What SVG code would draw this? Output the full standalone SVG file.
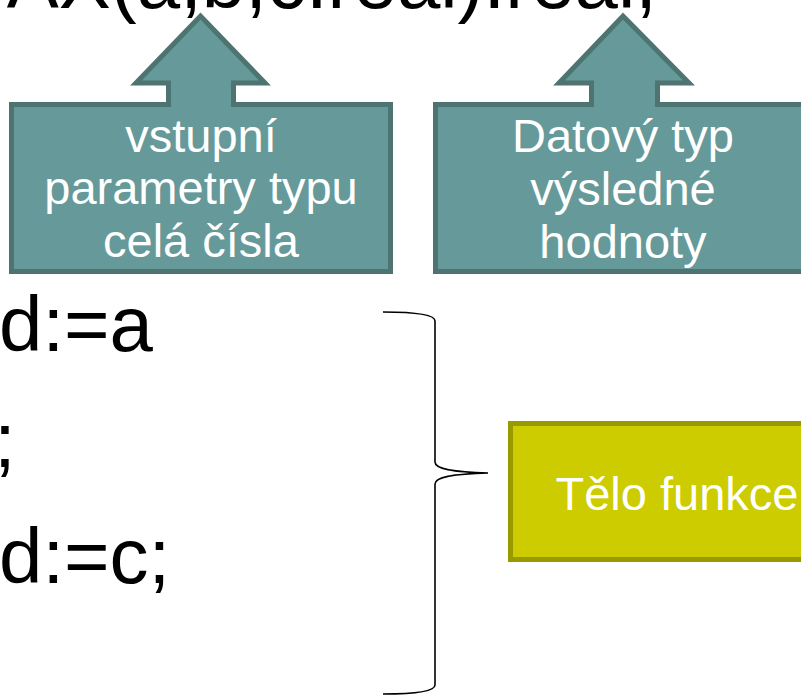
<svg xmlns="http://www.w3.org/2000/svg" width="801" height="697" viewBox="0 0 801 697">
<style>
.code{font-family:"Liberation Sans",Arial,sans-serif;font-size:78px;fill:#000}
.callout{fill:#669999;stroke:#4D7471;stroke-width:5;stroke-linejoin:miter}
.ctext{font-family:"Liberation Sans",Arial,sans-serif;font-size:47px;fill:#fff;text-anchor:middle}
.body{fill:#CCCC00;stroke:#999900;stroke-width:5}
.brace{fill:none;stroke:#000;stroke-width:1.6}
</style>
<rect width="801" height="697" fill="#fff"/>
<g id="code">
<text class="code" x="657" y="8" font-size="82" text-anchor="end">AX(a,b,c:real):real;</text>
<text class="code" x="-1" y="351">d:=a</text>
<text class="code" x="-6" y="467">;</text>
<text class="code" x="-1" y="583">d:=c;</text>
</g>
<g id="params">
<path class="callout" d="M11.5,104.5 L168.5,104.5 L168.5,83 L136,83 L200.5,16 L265,83 L233.5,83 L233.5,104.5 L390.5,104.5 L390.5,271.5 L11.5,271.5 Z"/>
<text class="ctext" x="201" y="152">vstupní</text>
<text class="ctext" x="201" y="204">parametry typu</text>
<text class="ctext" x="201" y="257">celá čísla</text>
</g>
<g id="returntype">
<path class="callout" d="M435.5,104.5 L591.5,104.5 L591.5,83 L559,83 L623,16 L689,83 L657.5,83 L657.5,104.5 L815,104.5 L815,271.5 L435.5,271.5 Z"/>
<text class="ctext" x="623" y="152">Datový typ</text>
<text class="ctext" x="623" y="205">výsledné</text>
<text class="ctext" x="623" y="258">hodnoty</text>
</g>
<g id="body">
<rect class="body" x="510.5" y="423.5" width="340" height="136"/>
<text class="ctext" x="677" y="510">Tělo funkce</text>
</g>
<g id="connectors">
<path class="brace" d="M383,312 C412,312 435,314 435,321 L435,462 C435,469 452,472 488,473 C452,474 435,477 435,484 L435,685 C435,692 412,694 383,694"/>
</g>
</svg>
